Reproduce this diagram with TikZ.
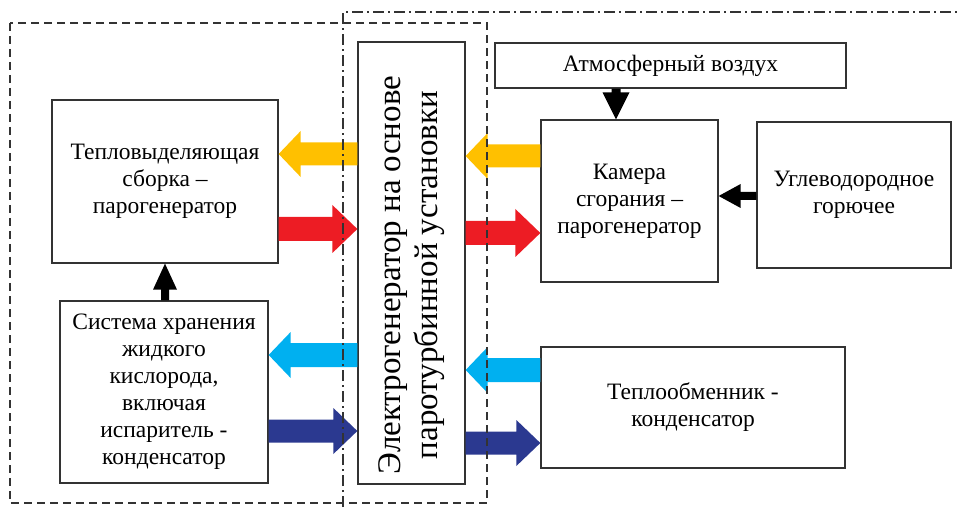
\documentclass[tikz,border=0pt]{standalone}
\usepackage{fontspec}
\setmainfont{Liberation Serif}
\usetikzlibrary{calc}
\definecolor{yel}{HTML}{FFC000}
\definecolor{redar}{HTML}{ED1C24}
\definecolor{lblue}{HTML}{00B0F0}
\definecolor{dblue}{HTML}{2B3990}
\definecolor{boxline}{HTML}{333333}
% #1 colour, #2 tail, #3 tip, #4 body half width, #5 head half width, #6 head length
\newcommand\fatarrow[6]{%
  \coordinate (fh) at ($(#3)!#6!(#2)$);
  \fill[#1] ($(#2)!#4!90:(#3)$) -- ($(fh)!#4!90:(#3)$) -- ($(fh)!#5!90:(#3)$) -- (#3)
    -- ($(fh)!#5!-90:(#3)$) -- ($(fh)!#4!-90:(#3)$) -- ($(#2)!#4!-90:(#3)$) -- cycle;}
\begin{document}
\begin{tikzpicture}[x=1pt,y=-1pt,
  box/.style={draw=boxline, line width=1.3pt, inner sep=0pt, align=center,
    font=\fontsize{23.5}{27}\selectfont},
  frameline/.style={line width=1.3pt, draw=boxline}]
\useasboundingbox (0,0) rectangle (957,510);
% boxes
\node[box, minimum width=226pt, minimum height=163pt] (tvs) at (165,181.5)
  {Тепловыделяющая\\сборка –\\парогенератор};
\node[box, minimum width=208pt, minimum height=182pt] (sys) at (164,392)
  {Система хранения\\жидкого\\кислорода,\\включая\\испаритель -\\конденсатор};
\node[box, minimum width=107pt, minimum height=442pt] (gen) at (411.5,263) {};
\node[rotate=90, align=center, font=\fontsize{33}{37}\selectfont] (gentext) at ([yshift=-12pt]gen.center)
  {Электрогенератор на основе\\паротурбинной установки};
\node[box, minimum width=351pt, minimum height=45pt] (air) at (670.5,65.5) {Атмосферный воздух};
\node[box, minimum width=177pt, minimum height=162pt] (kam) at (629.5,201)
  {Камера\\сгорания –\\парогенератор};
\node[box, minimum width=194pt, minimum height=146pt] (fuel) at (854,195)
  {Углеводородное\\горючее};
\node[box, minimum width=304pt, minimum height=121pt] (teplo) at (693,407.5)
  {Теплообменник -\\конденсатор};
% coloured flow arrows
\coordinate (a1t) at (gen.west |- 0,154);   \coordinate (a1h) at (tvs.east |- 0,154);
\coordinate (a2t) at (tvs.east |- 0,229);   \coordinate (a2h) at (gen.west |- 0,229);
\coordinate (a3t) at (gen.west |- 0,355);   \coordinate (a3h) at (sys.east |- 0,355);
\coordinate (a4t) at (sys.east |- 0,431);   \coordinate (a4h) at (gen.west |- 0,431);
\coordinate (a5t) at (kam.west |- 0,156);   \coordinate (a5h) at (gen.east |- 0,156);
\coordinate (a6t) at (gen.east |- 0,233);   \coordinate (a6h) at (kam.west |- 0,233);
\coordinate (a7t) at (teplo.west |- 0,370); \coordinate (a7h) at (gen.east |- 0,370);
\coordinate (a8t) at (gen.east |- 0,443);   \coordinate (a8h) at (teplo.west |- 0,443);
\fatarrow{yel}{a1t}{a1h}{11.5pt}{23pt}{22pt}
\fatarrow{redar}{a2t}{a2h}{12pt}{24pt}{25pt}
\fatarrow{lblue}{a3t}{a3h}{12pt}{23pt}{22pt}
\fatarrow{dblue}{a4t}{a4h}{11.5pt}{23pt}{24pt}
\fatarrow{yel}{a5t}{a5h}{11.5pt}{23pt}{22pt}
\fatarrow{redar}{a6t}{a6h}{12pt}{24pt}{25pt}
\fatarrow{lblue}{a7t}{a7h}{12pt}{23pt}{22pt}
\fatarrow{dblue}{a8t}{a8h}{11.5pt}{23pt}{24pt}
% black arrows
\coordinate (b1t) at (air.south -| 616,0);  \coordinate (b1h) at (kam.north -| 616,0);
\coordinate (b2t) at (fuel.west |- 0,196);  \coordinate (b2h) at (kam.east |- 0,196);
\coordinate (b3t) at (sys.north -| 165,0);  \coordinate (b3h) at (tvs.south -| 165,0);
\fatarrow{black}{b1t}{b1h}{4.5pt}{13.5pt}{27pt}
\fatarrow{black}{b2t}{b2h}{4pt}{12pt}{22pt}
\fatarrow{black}{b3t}{b3h}{4pt}{12pt}{26pt}
% frames
\draw[frameline, dash pattern=on 8pt off 5pt] (10,23) rectangle (487,503);
\draw[frameline, dash pattern=on 11pt off 4pt on 2pt off 4pt] (343,507) -- (343,12) -- (962,12);
\end{tikzpicture}
\end{document}
